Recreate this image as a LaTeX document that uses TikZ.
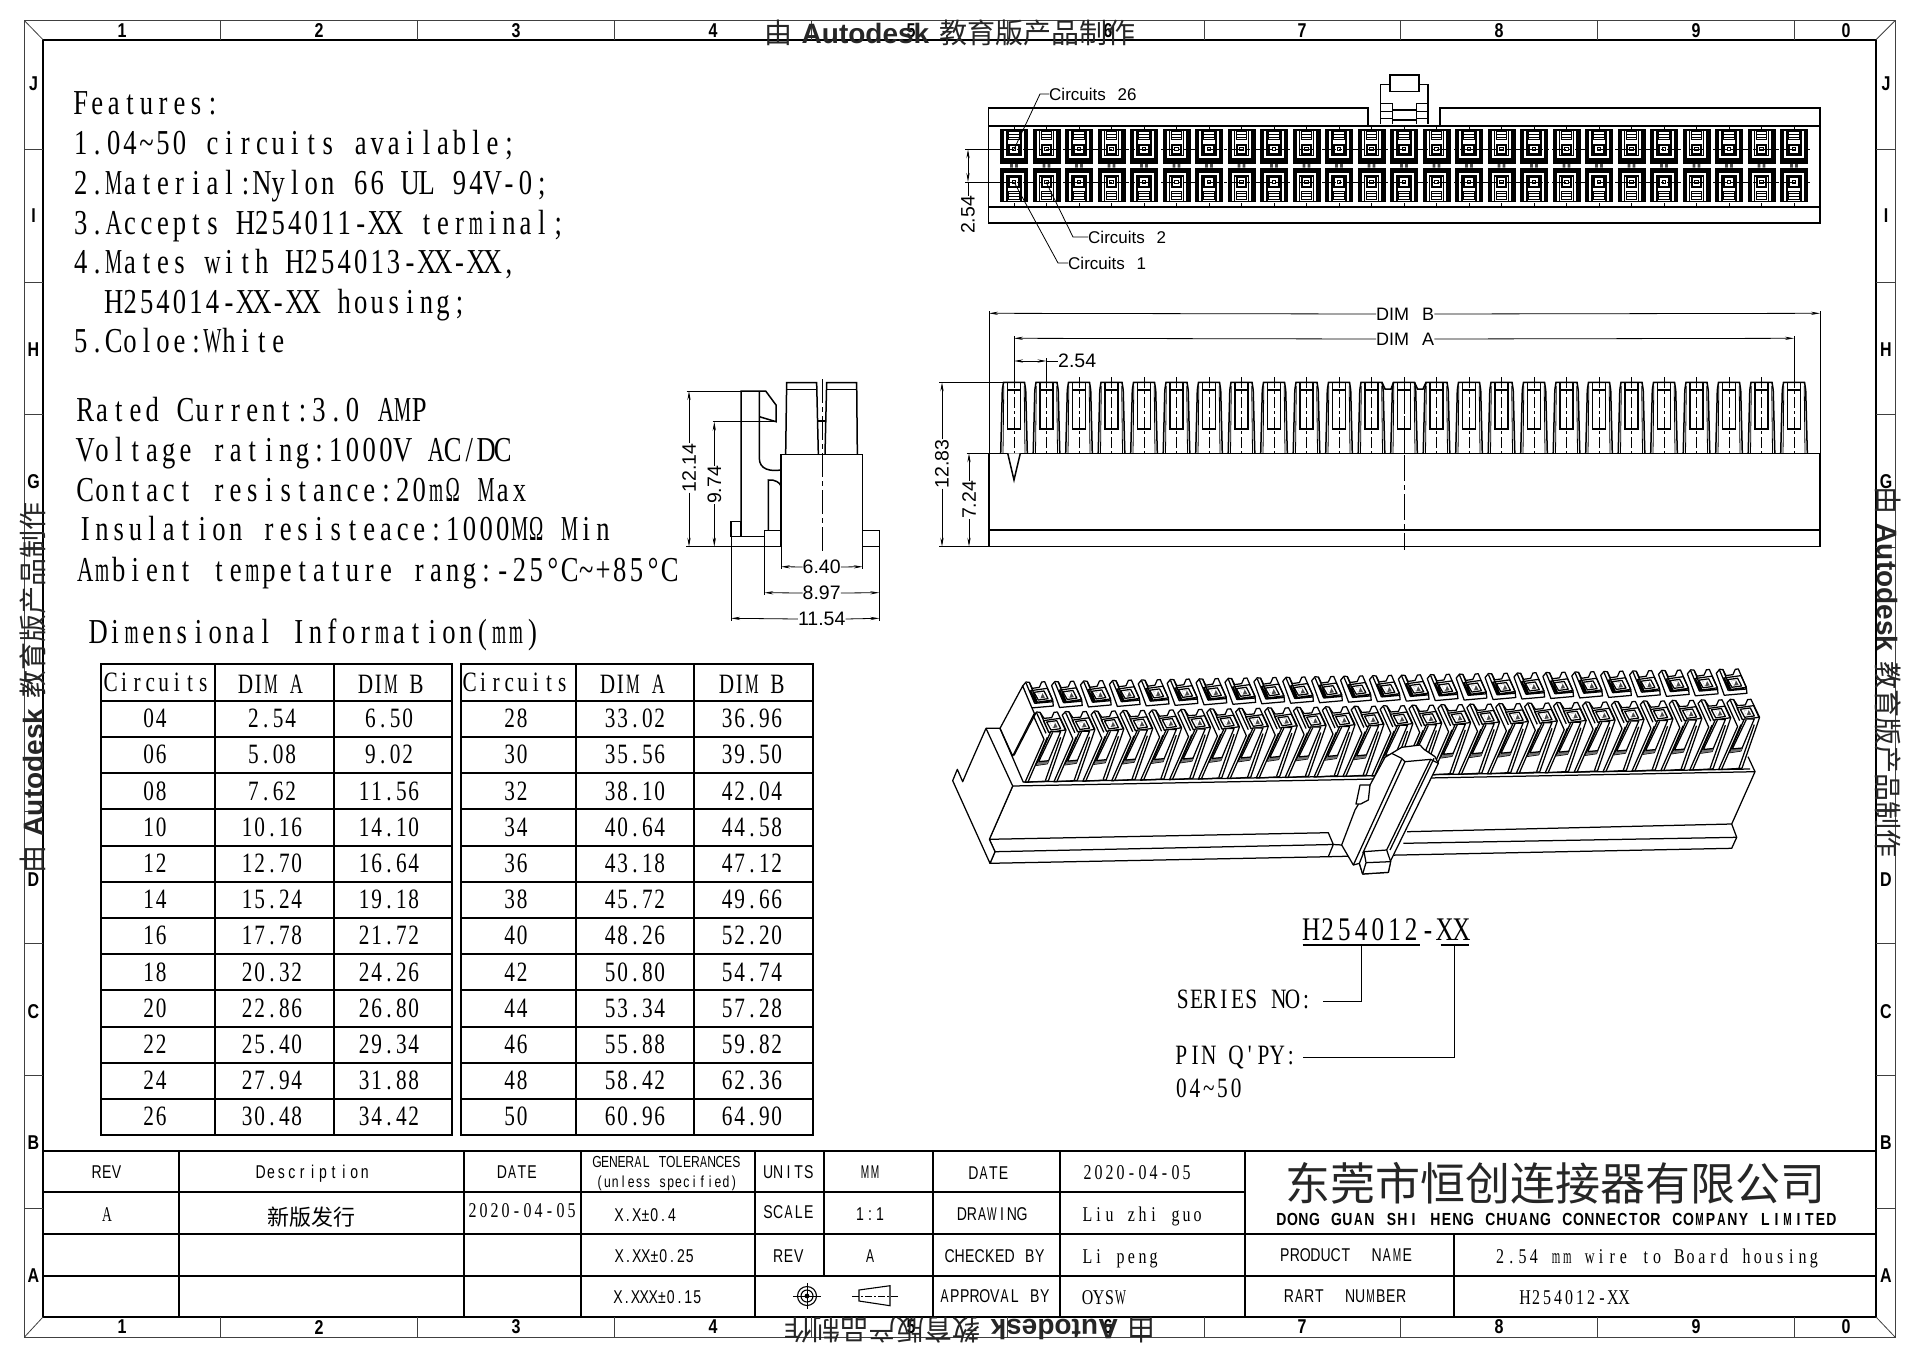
\documentclass[tikz,border=0pt]{standalone}
\usepackage{fontspec}
\usetikzlibrary{arrows.meta}
\setmainfont{Liberation Serif}
\newfontfamily\ser[FakeStretch=0.76]{Liberation Serif}
\newfontfamily\sno[FakeStretch=0.76]{Liberation Sans}
\newfontfamily\snb[FakeStretch=0.8]{Liberation Sans Bold}
\newfontfamily\sA{Liberation Sans}
\newfontfamily\sB{Liberation Sans Bold}
\newfontfamily\cjk{Noto Sans CJK SC}
\ExplSyntaxOn
\NewDocumentCommand\fp{mm}{
  \dim_set:Nn \l_tmpa_dim {#1pt}
  \str_map_inline:nn {#2} { \makebox[\l_tmpa_dim][c]{
    \str_case:nnF {##1} {
      {|}{}
      {M}{\scalebox{.72}[1]{M}}
      {m}{\scalebox{.68}[1]{m}}
      {W}{\scalebox{.72}[1]{W}}
      {w}{\scalebox{.85}[1]{w}}
      {Ω}{\scalebox{.72}[1]{Ω}}
      {A}{\scalebox{.85}[1]{A}}
    } {##1} } }
}
\ExplSyntaxOff
\newcounter{nn}
% [anchor]{font}{x}{ycentre}{size}{pitch}{text}
\newcommand\T[7][base west]{\stepcounter{nn}\node[anchor=#1,inner sep=0pt,outer sep=0pt] (t\arabic{nn}) at (#3,{#4+.33*#5}) {\fontsize{#5}{#5}\selectfont#2\fp{#6}{#7}};}
\newcommand\Tx[2]{\edef\zz{\noexpand\T[base]{\noexpand\ser}{#1}{\yy}{28}{12.4}{#2}}\zz}
% dimension text: {x}{y}{rot}{text}
\newcommand\D[4]{\stepcounter{nn}\node[inner sep=0pt,outer sep=0pt,rotate=#3] (d\arabic{nn}) at (#1,#2) {\fontsize{19.5}{19.5}\selectfont\sA #4};}
\newcommand\WM{{\cjk 由}\hspace{9pt}{\sB Autodesk}\hspace{10pt}{\cjk 教育版产品制作}}
\newcommand\W[3]{\stepcounter{nn}\node[inner sep=0pt,rotate=#3,text=black!85] (w\arabic{nn}) at (#1,#2) {\fontsize{28}{28}\selectfont\WM};}
\newcommand\B[2]{\stepcounter{nn}\node[inner sep=0pt] (b\arabic{nn}) at (#1) {\fontsize{20}{20}\selectfont\snb #2};}
\tikzset{
  obj/.style={line width=1.5pt,line join=miter},
  thin2/.style={line width=.8pt},
  tb/.style={line width=2pt},
  cl/.style={line width=.6pt,dash pattern=on 14pt off 3pt on 3pt off 3pt},
  iso/.style={line width=1.25pt,line join=round,fill=white},
  isol/.style={line width=1.25pt,line join=round},
  tip/.style={-{Stealth[length=9pt,width=3.2pt]}},
  tips/.style={{Stealth[length=9pt,width=3.2pt]}-{Stealth[length=9pt,width=3.2pt]}},
}
\begin{document}
\begin{tikzpicture}[x=1pt,y=-1pt]
\useasboundingbox (0,0) rectangle (1919,1357);
\fill[white] (0,0) rectangle (1919,1357);
% ---------- frame
\draw[line width=1pt,black!75] (24.5,20.7) rectangle (1895,1337);
\draw[line width=2.2pt] (43,39.7) rectangle (1876,1317);
\draw[line width=.8pt,black!75] (24.5,20.7)--(43,39.7) (1895,20.7)--(1876,39.7) (24.5,1337)--(43,1317) (1895,1337)--(1876,1317);
\foreach \x in {220.5,417,614,811,1007,1204,1400,1597,1794}{
  \draw[line width=.9pt,black!75] (\x,20.7)--(\x,39.7) (\x,1317)--(\x,1337);}
\foreach \y in {149,282,414,547,679,811,943,1075,1208}{
  \draw[line width=.9pt,black!75] (24.5,\y)--(43,\y) (1876,\y)--(1895,\y);}
\foreach \l/\x in {1/122,2/319,3/516,4/713,5/911,6/1108,7/1302,8/1499,9/1696,0/1846}{
  \B{\x,31}{\l} \B{\x,1327}{\l}}
\foreach \l/\y in {J/84,I/216,H/350,G/482,D/880,C/1012,B/1143,A/1276}{
  \B{33.5,\y}{\l} \B{1886,\y}{\l}}
\W{950}{33}{0}
\W{970}{1330}{180}
\W{33}{688}{90}
\W{1888}{672}{-90}
% ---------- text block
\T{\ser}{72.5}{103}{35}{16.47}{Features:}
\T{\ser}{72.5}{143.3}{35}{16.47}{1.04~50 circuits available;}
\T{\ser}{72.5}{183}{35}{16.47}{2.Material:Nylon 66 UL 94V-0;}
\T{\ser}{72.5}{222.7}{35}{16.47}{3.Accepts H254011-XX terminal;}
\T{\ser}{72.5}{261.7}{35}{16.47}{4.Mates with H254013-XX-XX,}
\T{\ser}{105.5}{301.7}{35}{16.47}{H254014-XX-XX housing;}
\T{\ser}{72.5}{341}{35}{16.47}{5.Coloe:White}
\T{\ser}{77}{410}{35}{16.7}{Rated Current:3.0 AMP}
\T{\ser}{77}{449.5}{35}{16.7}{Voltage rating:1000V AC/DC}
\T{\ser}{77}{490}{35}{16.7}{Contact resistance:20mΩ Max}
\T{\ser}{77}{529}{35}{16.7}{Insulation resisteace:1000MΩ Min}
\T{\ser}{77}{570}{35}{16.7}{Ambient tempetature rang:-25°C~+85°C}
\T{\ser}{90}{631.5}{35}{16.7}{Dimensional Information(mm)}
% ---------- dimension tables
\foreach \xa/\xb/\xc/\xd/\xe in {100.5/215.4/334/452/0,460.8/575.6/694/812.5/1}{
  \draw[tb] (\xa,664.3) rectangle (\xd,1135);
  \draw[tb] (\xb,664.3)--(\xb,1135) (\xc,664.3)--(\xc,1135);
  \foreach \n in {0,...,12}{ \draw[tb] (\xa,700.7+36.2*\n)--(\xd,700.7+36.2*\n); }
}
\T[base]{\ser}{157}{682}{28}{13.2}{Circuits}
\T[base]{\ser}{271}{684}{28}{12.7}{DIM A}
\T[base]{\ser}{391}{684}{28}{12.7}{DIM B}
\T[base]{\ser}{516}{682}{28}{13.2}{Circuits}
\T[base]{\ser}{633}{684}{28}{12.7}{DIM A}
\T[base]{\ser}{752}{684}{28}{12.7}{DIM B}
\foreach \a/\b/\c/\d/\e/\f [count=\n from 0] in {04/2.54/6.50/28/33.02/36.96,06/5.08/9.02/30/35.56/39.50,08/7.62/11.56/32/38.10/42.04,10/10.16/14.10/34/40.64/44.58,12/12.70/16.64/36/43.18/47.12,14/15.24/19.18/38/45.72/49.66,16/17.78/21.72/40/48.26/52.20,18/20.32/24.26/42/50.80/54.74,20/22.86/26.80/44/53.34/57.28,22/25.40/29.34/46/55.88/59.82,24/27.94/31.88/48/58.42/62.36,26/30.48/34.42/50/60.96/64.90}{
  \pgfmathsetmacro\yy{718.5+36.2*\n}
  \Tx{155}{\a}
  \Tx{272}{\b}
  \Tx{389}{\c}
  \Tx{516}{\d}
  \Tx{635}{\e}
  \Tx{752}{\f}
}
% ---------- top view
\foreach \i in {0,...,24}{
  \pgfmathsetmacro\cx{1014+32.5*\i}
  \foreach \cy/\sy in {149.3/1,182/-1}{
    \begin{scope}[shift={(\cx,\cy)},yscale=\sy]
      \fill (-14,-20.3) rectangle (14,14.2);
      \fill[white] (-9.6,-18.6) rectangle (9.6,8.8);
      \draw[line width=1.2pt] (-7,-18.6)--(-7,6)--(7,6)--(7,-18.6);
      \draw[line width=1.9pt] (-4.7,-4.7) rectangle (4.7,4.7);
      \draw[line width=1pt] (-1.6,-1.6) rectangle (1.6,1.6);
      \draw[line width=1.1pt] (-5.4,-17.6) rectangle (5.4,-9.6) (-5.4,-14.6)--(5.4,-14.6) (-5.4,-11.8)--(5.4,-11.8);
    \end{scope}
  }
  \fill[black!70] (\cx-3.8,164) rectangle (\cx-1.2,167.5) (\cx+1.2,164) rectangle (\cx+3.8,167.5);
  \draw[line width=.5pt] (\cx,125)--(\cx,129) (\cx,203)--(\cx,207);
}
\draw[obj] (1368,126)--(1368,108)--(988.5,108)--(988.5,223)--(1820,223)--(1820,108)--(1440,108)--(1440,126);
\draw[obj] (988.5,126)--(1820,126) (988.5,207)--(1820,207);
\begin{scope}[shift={(950,50)},x=.33333pt,y=-.33333pt]
  \draw[obj] (1292,222)--(1292,103)--(1434,103)--(1434,222);
  \draw[obj,fill=white] (1320,75) rectangle (1407,125);
  \draw[obj] (1292,160)--(1327,160)--(1327,222) (1434,160)--(1400,160)--(1400,222);
  \draw[obj] (1292,185)--(1327,185) (1292,205)--(1327,205) (1400,185)--(1434,185) (1400,205)--(1434,205);
  \draw[obj] (1327,180)--(1400,180) (1327,210)--(1400,210);
  \draw[thin2] (45,298)--(150,298) (45,396)--(150,396);
\end{scope}
\draw[cl] (1000,149.3)--(1810,149.3) (1000,182)--(1810,182);
\draw[thin2,tips] (968,149.3)--(968,182);
\D{968}{215}{90}{2.54}
\draw[thin2] (968,182)--(d\arabic{nn}.east);
\stepcounter{nn}\node[anchor=west,inner sep=0pt] (c26) at (1049,94) {\fontsize{17}{17}\selectfont\sA Circuits\hspace{7pt} 26};
\node[anchor=west,inner sep=0pt] (c2) at (1088,237) {\fontsize{17}{17}\selectfont\sA Circuits\hspace{7pt} 2};
\node[anchor=west,inner sep=0pt] (c1) at (1068,263) {\fontsize{17}{17}\selectfont\sA Circuits\hspace{7pt} 1};
\draw[thin2] (c26.west)--(1040,94)--(1014,149.3);
\draw[thin2] (c2.west)--(1073,237)--(1046,182);
\draw[thin2] (c1.west)--(1058,263)--(1014,182);
% ---------- front view
\foreach \i in {0,...,24}{
  \pgfmathsetmacro\cx{1014+32.5*\i}
  \begin{scope}[shift={(\cx,0)}]
    \draw[obj] (-13.3,453.3)--(-11.7,390)--(-10.5,382.3)--(10.5,382.3)--(11.7,390)--(13.3,453.3);
    \draw[line width=.8pt] (-11,453.3)--(-10.2,386) (11,453.3)--(10.2,386);
    \draw[obj] (-6.7,382.3)--(-6.7,429)--(6.7,429)--(6.7,382.3) (-6.7,390)--(6.7,390);
    \draw[line width=.5pt,dash pattern=on 11pt off 3pt on 3pt off 3pt] (0,377)--(0,457);
  \end{scope}
}
\draw[obj] (1382,382.3)--(1385,389)--(1391,389)--(1393.5,382.3) (1414.5,382.3)--(1417.5,389)--(1423,389)--(1426,382.3);
\draw[obj] (989,453.3) rectangle (1820,546.7) (989,530)--(1820,530);
\draw[obj,fill=white] (1007.7,453.3)--(1014,480)--(1020.3,453.3);
\draw[line width=.6pt,dash pattern=on 26pt off 4pt on 5pt off 4pt] (1404,377)--(1404,550);
% dims front
\draw[thin2] (989,453.3)--(989,310.7) (1820,453.3)--(1820,310.7);
\draw[thin2] (1014,377)--(1014,336) (1794,377)--(1794,336);
\draw[thin2] (1046.5,377)--(1046.5,358);
\stepcounter{nn}\node[anchor=west,inner sep=0pt] (dimb) at (1376,314) {\fontsize{18}{18}\selectfont\sA DIM\hspace{8pt} B};
\node[anchor=west,inner sep=0pt] (dima) at (1376,339) {\fontsize{18}{18}\selectfont\sA DIM\hspace{8pt} A};
\draw[thin2,tip] (dimb.west)--(989,313.3);
\draw[thin2,tip] (dimb.east)--(1820,313.3);
\draw[thin2,tip] (dima.west)--(1014,338.3);
\draw[thin2,tip] (dima.east)--(1794,338.3);
\node[anchor=west,inner sep=0pt] (p254) at (1058,361) {\fontsize{19.5}{19.5}\selectfont\sA 2.54};
\draw[thin2,tips] (1014,361)--(1046.5,361);
\draw[thin2] (1046.5,361)--(p254.west);
\draw[thin2] (939,382.3)--(1003,382.3) (939,546.7)--(989,546.7) (966.5,453.3)--(989,453.3);
\node[rotate=90,inner sep=0pt] (d1283) at (942,464) {\fontsize{19.5}{19.5}\selectfont\sA 12.83};
\node[rotate=90,inner sep=0pt] (d724) at (969,500) {\fontsize{19.5}{19.5}\selectfont\sA 7.24};
\draw[thin2,tip] (d1283.east)--(942,382.3);
\draw[thin2,tip] (d1283.west)--(942,546.7);
\draw[thin2,tip] (d724.east)--(969,453.3);
\draw[thin2,tip] (d724.west)--(969,546.7);
% ---------- side view
\begin{scope}[shift={(670,360)},x=.33333pt,y=-.33333pt]
  \draw[obj] (283,560) rectangle (628,512);
  \draw[obj,fill=white] (333,560)--(333,283)--(578,283)--(578,560);
  \draw[obj] (213,530)--(213,93)--(287,93)--(318,135)--(318,185)--(268,170);
  \draw[obj] (268,93)--(268,295) .. controls (268,328) and (300,335) .. (333,330);
  \draw[obj] (295,512)--(295,360) .. controls (315,358) and (330,368) .. (333,378);
  \draw[obj] (183,530) rectangle (213,485);
  \draw[obj] (213,530)--(283,530);
  \draw[obj] (347,283)--(350,68)--(440,68)--(445,283);
  \draw[obj] (465,283)--(470,68)--(560,68)--(562,283);
  \draw[obj] (350,88)--(440,88) (470,88)--(560,88) (445,183)--(465,183);
  \draw[line width=.6pt,dash pattern=on 24pt off 4pt on 5pt off 4pt] (457,58)--(457,572);
  \draw[thin2] (50,93)--(213,93) (128,185)--(318,185) (48,560)--(283,560);
  \draw[thin2] (183,530)--(183,782) (283,560)--(283,705) (628,560)--(628,782) (333,560)--(333,626) (578,560)--(578,626);
\end{scope}
\node[rotate=90,inner sep=0pt] (d1214) at (689,468) {\fontsize{19.5}{19.5}\selectfont\sA 12.14};
\node[rotate=90,inner sep=0pt] (d974) at (714.3,485) {\fontsize{19.5}{19.5}\selectfont\sA 9.74};
\draw[thin2,tip] (d1214.east)--(689,391);
\draw[thin2,tip] (d1214.west)--(689,546.7);
\draw[thin2,tip] (d974.east)--(714.3,421.7);
\draw[thin2,tip] (d974.west)--(714.3,546.7);
\node[inner sep=0pt] (d640) at (821.7,567) {\fontsize{19.5}{19.5}\selectfont\sA 6.40};
\node[inner sep=0pt] (d897) at (821.7,593) {\fontsize{19.5}{19.5}\selectfont\sA 8.97};
\node[inner sep=0pt] (d1154) at (821.7,619) {\fontsize{19.5}{19.5}\selectfont\sA 11.54};
\draw[thin2,tip] (d640.west)--(781,566.7);
\draw[thin2,tip] (d640.east)--(862.7,566.7);
\draw[thin2,tip] (d897.west)--(764.3,592.7);
\draw[thin2,tip] (d897.east)--(879.3,592.7);
\draw[thin2,tip] (d1154.west)--(731,618.3);
\draw[thin2,tip] (d1154.east)--(879.3,618.3);
% ---------- isometric view
\foreach \i in {0,...,24}{
  \begin{scope}[shift={({940+28.9*\i},{650-.53*\i})},x=.33333pt,y=-.33333pt]
    \draw[iso] (248,108)--(258,96)--(268,97)--(277,115)--(298,112)--(305,96)--(314,95)--(338,150)--(340,168)--(272,174)--cycle;
    \draw[isol] (258,99)--(284,160) (268,97)--(292,157) (272,122)--(322,115)--(338,150)--(288,157)--cycle (284,160)--(340,155);
    \draw[isol] (282,127)--(312,123)--(324,146)--(295,150)--cycle;
    \fill[black!70] (293,131)--(307,129)--(315,143)--(301,145)--cycle;
    \fill[white] (293,131)--(307,129)--(301,145)--cycle;
  \end{scope}
}
\foreach \i in {0,...,24}{
  \begin{scope}[shift={({940+28.9*\i},{650-.53*\i})},x=.33333pt,y=-.33333pt]
    \draw[iso] (255,397)--(312,268)--(280,197)--(290,186)--(300,187)--(312,205)--(335,203)--(342,187)--(352,186)--(378,240)--(372,258)--(325,393)--cycle;
    \draw[isol] (290,189)--(318,250) (300,187)--(326,246) (310,212)--(360,205)--(376,240)--(326,247)--cycle;
    \draw[isol] (320,216)--(350,212)--(362,236)--(333,240)--cycle;
    \fill[black!70] (331,220)--(345,218)--(353,232)--(339,234)--cycle;
    \fill[white] (331,220)--(345,218)--(339,234)--cycle;
    \draw[iso] (288,346)--(332,245)--(362,245)--(322,341)--cycle;
    \fill[black!55] (288,346)--(296,335)--(327,332)--(322,341)--cycle;
    \draw[isol] (296,335)--(338,247) (296,335)--(327,332);
    \draw[isol] (264,396)--(322,262);
    \draw[isol] (316,392)--(362,262);
  \end{scope}
}
\begin{scope}[shift={(940,650)},x=.33333pt,y=-.33333pt]
  % left wall
  \draw[iso] (180,235)--(248,108)--(275,172)--(283,190)--(218,318)--cycle;
  \draw[isol] (222,316)--(286,192);
\end{scope}
\draw[isol,fill=white] (1012.7,786)--(1755,771.7)--(1731.7,824)--(1736.7,837.3)--(1731.7,848.3)--(1400,855)--(1328.3,856.7)--(990,863.3)--(995,851.7)--(989.3,839.3)--cycle;
\draw[isol] (1023,782)--(1750,769) (1748,756.7)--(1755,771.7);
\draw[isol] (989.3,839.3)--(1328.3,832.7)--(1333.3,844.5)--(1328.3,856.7) (995,851.7)--(1333.3,844.5)--(1342,845);
\draw[isol] (1407,831.7)--(1731.7,824) (1403.3,843.3)--(1736.7,837.3);
\begin{scope}[shift={(940,650)},x=.33333pt,y=-.33333pt]
  % left block
  \draw[iso] (38,392)--(52,358)--(68,395)--(82,362)--(138,235)--(218,408)--(148,568)--(165,605)--(150,640)--cycle;
  \draw[isol] (138,235)--(180,235)--(250,397);
  \draw[iso] (1205,585)--(1245,480)--(1290,405)--(1335,322)--(1355,310)--(1385,292)--(1440,285)--(1452,298)--(1485,320)--(1495,340)--(1352,632)--(1345,667)--(1268,672)--(1258,640)--(1240,645)--cycle;
  \draw[isol] (1240,645)--(1385,328);
  \draw[isol] (1268,610)--(1395,335);
  \draw[isol] (1340,600)--(1472,328) (1350,600)--(1482,325);
  \draw[isol] (1355,310)--(1385,325)--(1395,335)--(1472,328)--(1495,340);
  \draw[iso] (1272,605)--(1340,600)--(1352,635)--(1345,667)--(1268,672)--(1258,640)--cycle;
  \draw[isol] (1278,638)--(1352,635) (1272,605)--(1278,638)--(1268,672);
  \draw[iso] (1248,462)--(1260,405)--(1290,405)--(1285,450)--(1262,462)--cycle;
\end{scope}
% ---------- part number
\T{\ser}{1302.7}{930}{33}{16.7}{H254012-XX}
\T{\ser}{1176}{999}{28}{13.7}{SERIES NO:}
\T{\ser}{1174.5}{1055}{28}{13.7}{PIN Q'PY:}
\T{\ser}{1174.5}{1088}{28}{13.7}{04~50}
\begin{scope}[shift={(1150,900)},x=.33333pt,y=-.33333pt]
  \draw[obj] (458,135)--(810,135) (872,135)--(957,135);
  \draw[obj] (635,135)--(635,305)--(520,305);
  \draw[obj] (913,135)--(913,473)--(458,473);
\end{scope}
% ---------- title block
\draw[tb] (43,1151)--(1876,1151) (43,1234)--(1876,1234) (43,1276)--(1876,1276) (43,1192)--(1245,1192);
\foreach \x in {179,464,581,755,933,1060,1245}{ \draw[tb] (\x,1151)--(\x,1317); }
\draw[tb] (824,1151)--(824,1276) (1454,1234)--(1454,1317);
\T[base]{\sno}{106.7}{1172.7}{18.5}{10}{REV}
\T[base]{\sno}{312.7}{1172.7}{18.5}{10.4}{Description}
\T[base]{\sno}{517}{1172.7}{18.5}{10}{DATE}
\T[base]{\sno}{666.7}{1162}{16}{8.2}{GENERAL TOLERANCES}
\T[base]{\sno}{666.7}{1182}{16}{7.9}{(unless specified)}
\T[base]{\sno}{788.5}{1172.7}{18.5}{10.2}{UNITS}
\T[base]{\sno}{870}{1172.7}{18.5}{10}{MM}
\T[base]{\ser}{107}{1215}{21}{11}{A}
\stepcounter{nn}\node[inner sep=0pt] (xfb) at (311,1217) {\fontsize{22}{22}\selectfont\cjk 新版发行};
\T[base]{\ser}{522}{1211}{21}{11}{2020-04-05}
\T[base]{\sno}{645.5}{1215}{18.5}{8.8}{X.X±0.4}
\T[base]{\sno}{788.5}{1212.7}{18.5}{10.2}{SCALE}
\T[base]{\sno}{870}{1214}{18.5}{10}{1:1}
\T[base]{\sno}{654.5}{1256.7}{18.5}{8.8}{X.XX±0.25}
\T[base]{\sno}{788.5}{1256.7}{18.5}{10.2}{REV}
\T[base]{\sno}{870}{1256.7}{18.5}{10}{A}
\T[base]{\sno}{657.6}{1297.7}{18.5}{8.8}{X.XXX±0.15}
\T[base]{\sno}{988.5}{1173}{18.5}{10}{DATE}
\T[base]{\sno}{992}{1214}{18.5}{10}{DRAWING}
\T[base]{\sno}{994.7}{1256}{18.5}{10}{CHECKED BY}
\T[base]{\sno}{994.7}{1296.7}{18.5}{10}{APPROVAL BY}
\T{\ser}{1082}{1172.7}{21}{11}{2020-04-05}
\T{\ser}{1082}{1215}{21}{11}{Liu zhi guo}
\T{\ser}{1082}{1257}{21}{11}{Li peng}
\T{\ser}{1082}{1298}{21}{11}{OYSW}
\stepcounter{nn}\node[inner sep=0pt,text=black!85] (co) at (1555.6,1183) {\fontsize{45}{45}\selectfont\cjk 东莞市恒创连接器有限公司};
\T[base]{\snb}{1556.5}{1220}{17.5}{11}{DONG GUAN SHI HENG CHUANG CONNECTOR COMPANY LIMITED}
\T[base]{\sno}{1346}{1255}{18.5}{10.2}{PRODUCT| NAME}
\T[base]{\sno}{1345}{1296.7}{18.5}{10.2}{RART| NUMBER}
\T{\ser}{1494.6}{1257}{21}{11.2}{2.54 mm wire to Board housing}
\T{\ser}{1519.5}{1297.7}{21}{11}{H254012-XX}
% symbols
\draw[line width=1.1pt] (807,1296) circle (9.5) (807,1296) circle (6);
\fill (807,1296) circle (2.4);
\draw[line width=.7pt] (793,1296)--(821,1296) (807,1283)--(807,1309);
\draw[line width=1.1pt] (859,1290)--(890,1285.7)--(890,1305.7)--(859,1301)--cycle;
\draw[line width=.8pt,dash pattern=on 7pt off 2pt on 2pt off 2pt] (852,1296)--(898,1296);
\end{tikzpicture}
\end{document}
